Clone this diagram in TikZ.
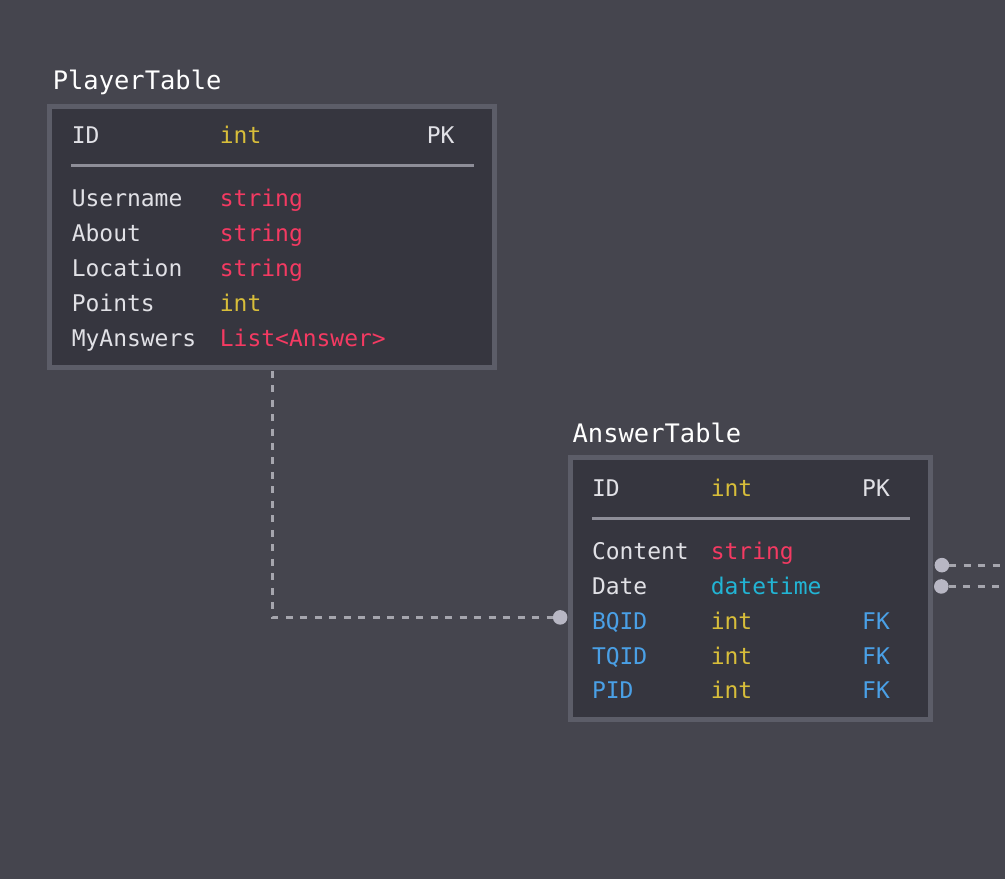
\documentclass[tikz,border=0pt]{standalone}
\usepackage{fontspec}
\setmonofont{DejaVu Sans Mono}
\usetikzlibrary{positioning}
\definecolor{bgc}{RGB}{69,69,78}
\definecolor{tbf}{RGB}{54,54,63}
\definecolor{tbr}{RGB}{92,93,104}
\definecolor{sepc}{RGB}{142,142,152}
\definecolor{ttlc}{RGB}{255,255,255}
\definecolor{fldc}{RGB}{225,225,230}
\definecolor{intc}{RGB}{216,190,58}
\definecolor{strc}{RGB}{244,58,98}
\definecolor{dtc}{RGB}{34,180,212}
\definecolor{fkc}{RGB}{74,160,230}
\definecolor{pinc}{RGB}{184,183,196}
\definecolor{lnkc}{RGB}{166,166,174}
\tikzset{
  tbl/.style={rectangle,draw=tbr,fill=tbf,line width=5pt,
    minimum width=#1,minimum height=261.7pt,inner sep=0pt,outer sep=0pt},
  tbl/.default=361pt,
  tname/.style={anchor=base west,inner sep=0pt,text=ttlc,
    font=\fontsize{25.5}{30}\selectfont\ttfamily},
  fld/.style={anchor=base west,inner sep=0pt,text=#1,
    font=\fontsize{23}{27}\selectfont\ttfamily},
  fld/.default=fldc,
  sepl/.style={draw=sepc,line width=3pt},
  pin/.style={circle,fill=pinc,minimum size=14.6pt,inner sep=0pt,outer sep=0pt},
  lnk/.style={draw=lnkc,line width=3pt,dash pattern=on 7pt off 7.5pt},
}

\begin{document}
\begin{tikzpicture}[x=1pt,y=-1pt]
  \fill[bgc] (0,0) rectangle (1006,880);

  % PlayerTable
  \node[tname] (ptitle) at (52.7,89.3) {PlayerTable};
  \node[tbl=445.4pt] (player) at (272.5,237.3) {};
  \node[fld] (pid) at (71.7,144) {ID};
  \node[fld=intc] (pidt) at (220,144) {int};
  \node[fld] (pidk) at (427.3,144) {PK};
  \draw[sepl] (71,166) -- (474.3,166);
  \node[fld] (puser) at (71.7,206.7) {Username};
  \node[fld=strc] (pusert) at (220,206.7) {string};
  \node[fld] (pabout) at (71.7,241.7) {About};
  \node[fld=strc] (pabt) at (220,241.7) {string};
  \node[fld] (ploc) at (71.7,276.7) {Location};
  \node[fld=strc] (ploct) at (220,276.7) {string};
  \node[fld] (ppts) at (71.7,311.7) {Points};
  \node[fld=intc] (pptst) at (220,311.7) {int};
  \node[fld] (pans) at (71.7,346.7) {MyAnswers};
  \node[fld=strc] (panst) at (220,346.7) {List<Answer>};

  % AnswerTable
  \node[tname] (atitle) at (573.3,443.3) {AnswerTable};
  \node[tbl] (answer) at (751.7,589.35) {};
  \node[fld] (aid) at (592.7,497.3) {ID};
  \node[fld=intc] (aidt) at (711.7,497.3) {int};
  \node[fld] (aidk) at (863.3,497.3) {PK};
  \draw[sepl] (592.7,519) -- (911,519);
  \node[fld] (acont) at (592.7,560) {Content};
  \node[fld=strc] (acontt) at (711.7,560) {string};
  \node[fld] (adate) at (592.7,595) {Date};
  \node[fld=dtc] (adatet) at (711.7,595) {datetime};
  \node[fld=fkc] (abq) at (592.7,630) {BQID};
  \node[fld=intc] (abqt) at (711.7,630) {int};
  \node[fld=fkc] (abqk) at (863.3,630) {FK};
  \node[fld=fkc] (atq) at (592.7,665) {TQID};
  \node[fld=intc] (atqt) at (711.7,665) {int};
  \node[fld=fkc] (atqk) at (863.3,665) {FK};
  \node[fld=fkc] (apl) at (592.7,700) {PID};
  \node[fld=intc] (aplt) at (711.7,700) {int};
  \node[fld=fkc] (aplk) at (863.3,700) {FK};

  % links
  \node[pin] (bqpin) at (561,618.3) {};
  \draw[lnk,shorten <=3pt] (player.south) |- (bqpin);
  \node[pin] (outa) at (943.3,566) {};
  \node[pin] (outb) at (942.7,587.3) {};
  \coordinate (enda) at (1006,566);
  \coordinate (endb) at (1006,587.3);
  \draw[lnk] (outa) -- (enda);
  \draw[lnk] (outb) -- (endb);
\end{tikzpicture}
\end{document}
